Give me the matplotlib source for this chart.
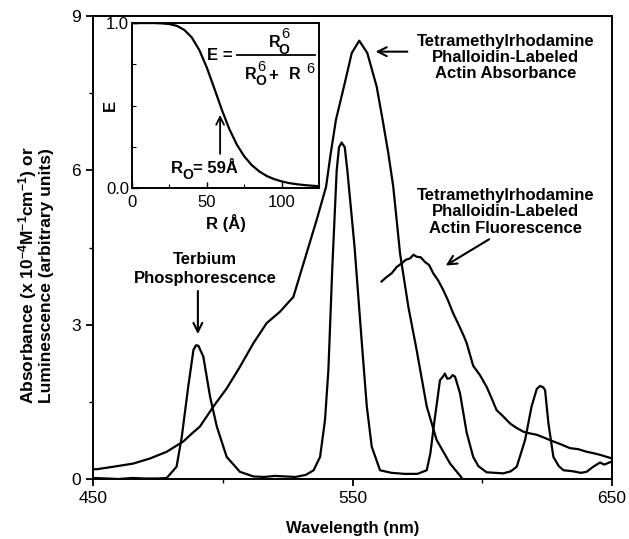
import matplotlib
matplotlib.use("Agg")
import matplotlib.pyplot as plt

plt.rcParams['font.family'] = ['Liberation Sans', 'DejaVu Sans']
plt.rcParams['mathtext.fontset'] = 'custom'
plt.rcParams['mathtext.rm'] = 'Liberation Sans'
plt.rcParams['mathtext.bf'] = 'Liberation Sans:bold'
plt.rcParams['mathtext.it'] = 'Liberation Sans:italic'

# ---- data ----
abs_wl = [450, 451.4, 458, 465.5, 472, 478.4, 484.8, 488, 491.2, 496.4, 501.5, 506.6,
          511.8, 516.9, 522, 527.2, 532.3, 536.2, 539.8, 541.6, 543.6, 546.7, 549.7,
          552.6, 555.7, 559.3, 561.6, 563.8, 565.7, 567, 568.3, 571.5, 574.7, 578.6,
          582.4, 587.6, 592]
abs_val = [0.19, 0.19, 0.24, 0.30, 0.40, 0.53, 0.73, 0.88, 1.02, 1.41, 1.76, 2.18,
           2.64, 3.03, 3.25, 3.54, 4.39, 5.04, 5.68, 6.33, 6.98, 7.63, 8.28,
           8.52, 8.28, 7.63, 6.98, 6.33, 5.68, 5.04, 4.39, 3.35, 2.51, 1.41,
           0.76, 0.3, 0.03]

tb_wl = [450, 455, 460, 465, 470, 475, 478.4, 482.2, 484.2, 486.7, 488.7, 489.7, 490.6,
         492.5, 495.1, 497.7, 501.5, 506.6, 511.8, 516, 520, 524, 528, 532, 535,
         537.5, 539.4, 540.7, 542.2, 543.9, 544.8, 545.8, 547, 548, 549.5, 550.8,
         553.5, 555.5, 557.4, 560.6, 565, 570, 575, 578.6, 580, 581.5, 583.7, 585,
         585.6, 586.5, 587.6, 588.6, 589.5, 591.4, 594, 596.5, 598.5, 601.7, 605,
         608.1, 611, 613.3, 616.5, 619, 621, 622.3, 623.5, 624.2, 625.5, 627.4,
         629.5, 631.3, 635, 638, 640.2, 642.8, 645.4, 647, 649.9]
tb_val = [0.02, 0.01, 0.0, 0.02, 0.01, 0.01, 0.02, 0.24, 0.82, 1.8, 2.51, 2.6, 2.59,
          2.38, 1.6, 1.02, 0.43, 0.14, 0.05, 0.04, 0.06, 0.05, 0.04, 0.08, 0.17,
          0.43, 1.15, 2.12, 4.1, 6.0, 6.45, 6.54, 6.45, 6.0, 5.2, 4.5,
          2.7, 1.41, 0.63, 0.17, 0.12, 0.1, 0.1, 0.17, 0.5, 1.1, 1.92, 2.0,
          2.05, 1.95, 1.96, 2.02, 1.99, 1.67, 0.9, 0.43, 0.25, 0.13, 0.12,
          0.11, 0.15, 0.24, 0.76, 1.41, 1.75, 1.81, 1.78, 1.73, 1.08, 0.43,
          0.25, 0.17, 0.15, 0.12, 0.14, 0.24, 0.32, 0.28, 0.34]

fl_wl = [561.2, 563, 565.1, 567, 568.9, 570.5, 572.2, 573.5, 574.7, 576.3, 577.9,
         579.5, 581.1, 583, 585, 586.8, 588.8, 590.7, 592.7, 594, 596.5, 599.1,
         601.7, 603.6, 605.5, 608, 610.7, 613, 615.8, 618, 621, 624, 627.4, 630.5,
         633.8, 637, 640.2, 643, 645.4, 648, 650]
fl_val = [3.84, 3.92, 4.0, 4.12, 4.19, 4.26, 4.29, 4.36, 4.32, 4.31, 4.22, 4.16,
          4.0, 3.86, 3.67, 3.47, 3.22, 3.02, 2.8, 2.64, 2.2, 2.02, 1.79, 1.57,
          1.34, 1.22, 1.08, 1.0, 0.92, 0.89, 0.86, 0.8, 0.73, 0.67, 0.6, 0.58,
          0.53, 0.5, 0.47, 0.43, 0.4]

r_vals = [0, 5, 10, 15, 20, 25, 30, 35, 40, 45, 50, 55, 60, 65, 70, 75, 80, 85,
          90, 95, 100, 105, 110, 115, 120, 125]
e_vals = [1.0, 1.0, 1.0, 1.0, 0.998, 0.994, 0.983, 0.958, 0.912, 0.836, 0.730,
          0.604, 0.475, 0.358, 0.264, 0.192, 0.139, 0.101, 0.073, 0.054, 0.040,
          0.030, 0.023, 0.018, 0.014, 0.011]

x_ticks = [450, 550, 650]
y_ticks = [0, 3, 6, 9]

# ---- figure ----
fig = plt.figure(figsize=(6.29, 5.39), dpi=100)
ax = fig.add_axes([0.1479, 0.1113, 0.8251, 0.859])
lw = 1.6
ax.plot(abs_wl, abs_val, color='black', lw=lw)
ax.plot(tb_wl, tb_val, color='black', lw=lw)
ax.plot(fl_wl, fl_val, color='black', lw=lw)

ax.set_xlim(450, 650)
ax.set_ylim(0, 9)
ax.set_xticks(x_ticks)
ax.set_xticks([500, 600], minor=True)
ax.set_yticks(y_ticks)
ax.set_yticks([1.5, 4.5, 7.5], minor=True)
ax.tick_params(which='major', direction='out', length=5, width=1.3, labelsize=12.5)
ax.tick_params(which='minor', direction='out', length=3, width=1.0)
for s in ax.spines.values():
    s.set_linewidth(1.4)

ax.set_xlabel('Wavelength (nm)', fontsize=12, fontweight='bold', labelpad=11)
ax.set_ylabel('Absorbance (x 10$^{\\mathbf{-4}}$M$^{\\mathbf{-1}}$cm$^{\\mathbf{-1}}$) or\nLuminescence (arbitrary units)',
              fontsize=12.5, fontweight='bold', linespacing=0.95)
ax.yaxis.label.set_va('center')
ax.yaxis.set_label_coords(-0.112, 0.44)

bold = dict(fontsize=12, fontweight='bold', ha='center', va='center', linespacing=1.1)
ax.text(0.795, 0.911, 'Tetramethylrhodamine\nPhalloidin-Labeled\nActin Absorbance',
        transform=ax.transAxes, **bold)
ax.annotate('', xy=(0.539, 0.923), xycoords='axes fraction',
            xytext=(0.611, 0.923), textcoords='axes fraction',
            arrowprops=dict(arrowstyle='->', lw=1.5, color='black', mutation_scale=16))
ax.text(0.795, 0.577, 'Tetramethylrhodamine\nPhalloidin-Labeled\nActin Fluorescence',
        transform=ax.transAxes, **bold)
ax.annotate('', xy=(0.675, 0.458), xycoords='axes fraction',
            xytext=(0.768, 0.521), textcoords='axes fraction',
            arrowprops=dict(arrowstyle='->', lw=1.5, color='black', mutation_scale=16))
ax.text(0.216, 0.454, 'Terbium\nPhosphorescence', transform=ax.transAxes,
        fontsize=12, fontweight='bold', ha='center', va='center', linespacing=1.35)
ax.annotate('', xy=(0.202, 0.307), xycoords='axes fraction',
            xytext=(0.202, 0.412), textcoords='axes fraction',
            arrowprops=dict(arrowstyle='->', lw=1.5, color='black', mutation_scale=16))

# ---- inset ----
ins = fig.add_axes([0.2099, 0.6512, 0.2973, 0.306])
ins.plot(r_vals, e_vals, color='black', lw=lw)
ins.set_xlim(0, 125)
ins.set_ylim(0, 1)
ins.set_xticks([0, 50, 100])
ins.set_xticks([25, 75, 125], minor=True)
ins.set_yticks([0, 1])
ins.set_yticklabels(['0.0', '1.0'])
ins.set_yticks([0.25, 0.5, 0.75], minor=True)
ins.tick_params(which='major', direction='in', length=4, width=1.0, labelsize=12)
ins.tick_params(axis='x', which='major', pad=5)
ins.tick_params(axis='y', which='major', pad=2)
ins.tick_params(which='minor', direction='in', length=3, width=0.8)
for s in ins.spines.values():
    s.set_linewidth(1.4)
ins.set_xlabel('R (Å)', fontsize=12, fontweight='bold', labelpad=3)
ins.set_ylabel('E', fontsize=12, fontweight='bold')
ins.yaxis.label.set_va('center')
ins.yaxis.set_label_coords(-0.118, 0.5)

ft = dict(transform=ins.transAxes, ha='center', va='center', fontweight='bold')
ins.text(0.471, 0.804, 'E =', fontsize=12, **ft)
ins.plot([0.563, 0.979], [0.804, 0.804], transform=ins.transAxes,
         color='black', lw=1.3, clip_on=False)
# numerator R_O^6
ins.text(0.761, 0.881, 'R', fontsize=11.5, **ft)
ins.text(0.818, 0.935, '6', fontsize=10.5, transform=ins.transAxes, ha='center', va='center')
ins.text(0.813, 0.838, 'O', fontsize=10, **ft)
# denominator R_O^6 +  R^6
ins.text(0.636, 0.689, 'R', fontsize=11.5, **ft)
ins.text(0.694, 0.733, '6', fontsize=10.5, transform=ins.transAxes, ha='center', va='center')
ins.text(0.688, 0.648, 'O', fontsize=10, **ft)
ins.text(0.756, 0.683, '+', fontsize=12, **ft)
ins.text(0.872, 0.689, 'R', fontsize=11.5, **ft)
ins.text(0.956, 0.719, '6', fontsize=10.5, transform=ins.transAxes, ha='center', va='center')
# R_O = 59 Å
ins.text(0.239, 0.119, 'R', fontsize=12, **ft)
ins.text(0.296, 0.079, 'O', fontsize=10, **ft)
ins.text(0.325, 0.119, '= 59Å', fontsize=12, transform=ins.transAxes,
         ha='left', va='center', fontweight='bold')
ins.annotate('', xy=(0.471, 0.46), xycoords='axes fraction',
             xytext=(0.471, 0.19), textcoords='axes fraction',
             arrowprops=dict(arrowstyle='->', lw=1.3, color='black', mutation_scale=14))

fig.savefig('out.png', dpi=100)
